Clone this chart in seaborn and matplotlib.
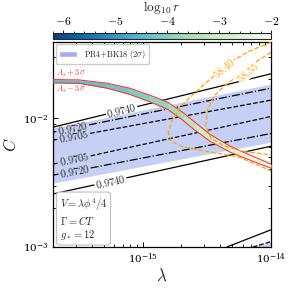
import numpy as np
import matplotlib
matplotlib.use("Agg")
import matplotlib.pyplot as plt
import seaborn as sns
from matplotlib.colors import Normalize
from matplotlib.cm import ScalarMappable
from matplotlib.patches import Patch
from matplotlib.ticker import MultipleLocator, FixedLocator, LogLocator, NullFormatter

sns.set_theme(style="white")
plt.rcParams["mathtext.fontset"] = "cm"
plt.rcParams["font.family"] = ["DejaVu Serif"]

# ---------------- data ----------------
lam_edges = [2.0e-16, 1.0e-14]
# n_s contour lines: C at left and right edges
ns_upper_solid = [8.51e-3, 2.21e-2]    # 0.9740
ns_upper_dashdot = [7.79e-3, 1.71e-2]  # 0.9720
ns_upper_dashed = [6.75e-3, 1.38e-2]   # 0.9705
ns_lower_dashed = [4.40e-3, 1.03e-2]   # 0.9705
ns_lower_dashdot = [3.61e-3, 7.60e-3]  # 0.9720
ns_lower_solid = [2.58e-3, 6.06e-3]    # 0.9740
band_top = [8.36e-3, 1.84e-2]
band_bottom = [3.13e-3, 6.52e-3]
br_solid_lam = [4.53e-15, 1.0e-14]
br_solid_C = [1.0e-3, 1.36e-3]
br_dashed_lam = [7.23e-15, 1.0e-14]
br_dashed_C = [1.0e-3, 1.10e-3]

# A_s +/- 3 sigma band
lam_red = [2.0e-16, 3.22e-16, 5.24e-16, 7.91e-16, 1.135e-15, 1.567e-15,
           2.05e-15, 2.55e-15, 3.33e-15, 4.79e-15, 6.85e-15, 1.0e-14]
C_red_up = [1.995e-2, 1.98e-2, 1.87e-2, 1.71e-2, 1.51e-2, 1.33e-2,
            1.11e-2, 9.31e-3, 7.51e-3, 6.07e-3, 5.17e-3, 4.40e-3]
C_red_lo = [1.88e-2, 1.86e-2, 1.71e-2, 1.53e-2, 1.34e-2, 1.17e-2,
            9.65e-3, 8.07e-3, 6.64e-3, 5.45e-3, 4.72e-3, 4.09e-3]
logr_red = [-4.45, -4.4, -4.3, -4.15, -3.95, -3.7,
            -3.45, -3.2, -2.9, -2.65, -2.45, -2.3]

# N-efold contours (orange)
lam_N1 = [1.0e-14, 6.85e-15, 5.24e-15, 3.53e-15, 2.46e-15, 1.98e-15,
          1.71e-15, 1.58e-15, 1.67e-15, 2.05e-15, 3.2e-15, 5.6e-15, 1.0e-14]
C_N1 = [3.88e-2, 3.33e-2, 2.86e-2, 2.10e-2, 1.52e-2, 1.23e-2,
        9.8e-3, 7.7e-3, 6.6e-3, 6.0e-3, 5.5e-3, 5.0e-3, 3.9e-3]
lam_N2 = [1.0e-14, 7.9e-15, 5.8e-15, 4.5e-15, 3.6e-15, 3.2e-15,
          3.1e-15, 3.4e-15, 4.3e-15, 6.1e-15, 1.0e-14]
C_N2 = [3.24e-2, 2.80e-2, 2.22e-2, 1.83e-2, 1.49e-2, 1.16e-2,
        8.8e-3, 7.0e-3, 6.1e-3, 5.5e-3, 5.2e-3]

ns_labels = ["0.9740", "0.9720", "0.9705"]
N_labels = ["58.40", "58.55"]

# ---------------- figure ----------------
W, H = 292, 291
fig = plt.figure(figsize=(W / 100, H / 100), dpi=100)
ax = fig.add_axes([53 / W, 1 - 247 / H, 218 / W, 205 / H])
cax = fig.add_axes([53 / W, 1 - 39 / H, 218 / W, 6 / H])
ax.set_xscale("log")
ax.set_yscale("log")
ax.set_xlim(2.0e-16, 1.0e-14)
ax.set_ylim(1.0e-3, 3.9e-2)
ax.xaxis.set_major_locator(FixedLocator([1e-15, 1e-14]))
ax.yaxis.set_major_locator(FixedLocator([1e-3, 1e-2]))
ax.xaxis.set_minor_locator(LogLocator(base=10, subs=np.arange(2, 10), numticks=20))
ax.yaxis.set_minor_locator(LogLocator(base=10, subs=np.arange(2, 10), numticks=20))
ax.xaxis.set_minor_formatter(NullFormatter())
ax.yaxis.set_minor_formatter(NullFormatter())

cmap = plt.get_cmap("GnBu_r")
norm = Normalize(vmin=-6.2, vmax=-2.0)

band_col = "#c6d0f4"
# blue band
lt = np.linspace(np.log10(lam_edges[0]), np.log10(lam_edges[1]), 200)
ax.fill_between(10 ** lt,
                10 ** np.interp(lt, np.log10(lam_edges), np.log10(band_bottom)),
                10 ** np.interp(lt, np.log10(lam_edges), np.log10(band_top)),
                color=band_col, lw=0, zorder=1)
ltb = np.linspace(np.log10(br_dashed_lam[0]), np.log10(br_dashed_lam[1]), 50)
ax.fill_between(10 ** ltb, 1e-3,
                10 ** np.interp(ltb, np.log10(br_dashed_lam), np.log10(br_dashed_C)),
                color=band_col, lw=0, zorder=1)


def angle_of(l0, c0, l1, c1):
    p0 = ax.transData.transform((l0, c0))
    p1 = ax.transData.transform((l1, c1))
    return np.degrees(np.arctan2(p1[1] - p0[1], p1[0] - p0[0]))


def ns_line(Cs, ls, label, xlab, halfgap):
    llam = np.log10(lam_edges)
    lc = np.log10(Cs)
    t = np.linspace(llam[0], llam[1], 400)
    y = np.interp(t, llam, lc)
    g0, g1 = np.log10(xlab) - halfgap, np.log10(xlab) + halfgap
    y2 = y.copy()
    y2[(t > g0) & (t < g1)] = np.nan
    ax.plot(10 ** t, 10 ** y2, color="black", ls=ls, lw=0.9, zorder=3)
    yl = np.interp(np.log10(xlab), llam, lc)
    ang = angle_of(lam_edges[0], Cs[0], lam_edges[1], Cs[1])
    ax.text(xlab, 10 ** yl, r"$%s$" % label, rotation=ang, rotation_mode="anchor",
            ha="center", va="center", fontsize=7.5, zorder=4)


ns_line(ns_upper_solid, "-", ns_labels[0], 6.85e-16, 0.125)
ns_line(ns_upper_dashdot, "-.", ns_labels[1], 2.84e-16, 0.125)
ns_line(ns_upper_dashed, "--", ns_labels[2], 2.9e-16, 0.125)
ns_line(ns_lower_dashed, "--", ns_labels[2], 2.95e-16, 0.125)
ns_line(ns_lower_dashdot, "-.", ns_labels[1], 2.95e-16, 0.125)
ns_line(ns_lower_solid, "-", ns_labels[0], 5.6e-16, 0.125)
ax.plot(br_solid_lam, br_solid_C, color="black", lw=0.9, zorder=3)
ax.plot(br_dashed_lam, br_dashed_C, color="black", ls="--", lw=0.9, zorder=3)

# red A_s band colored by log10 r
lr = np.log10(lam_red)
for i in range(len(lam_red) - 1):
    tt = np.linspace(lr[i], lr[i + 1], 10)
    up = np.interp(tt, lr, np.log10(C_red_up))
    lo = np.interp(tt, lr, np.log10(C_red_lo))
    ax.fill_between(10 ** tt, 10 ** lo, 10 ** up,
                    color=cmap(norm(0.5 * (logr_red[i] + logr_red[i + 1]))),
                    lw=0, zorder=5)
ax.plot(lam_red, C_red_up, color="#ff3030", lw=0.75, zorder=6)
ax.plot(lam_red, C_red_lo, color="#ff3030", lw=0.75, zorder=6)
ax.text(2.1e-16, 2.15e-2, r"$A_s+3\sigma$", color="#ff3030", fontsize=6, zorder=7)
ax.text(2.1e-16, 1.62e-2, r"$A_s-3\sigma$", color="#ff3030", fontsize=6, zorder=7)

# orange N contours
ax.plot(lam_N1, C_N1, color="orange", ls="--", lw=0.9, zorder=6)
ax.plot(lam_N2, C_N2, color="orange", ls="--", lw=0.9, zorder=6)
ax.text(4.3e-15, 2.45e-2, r"$%s$" % N_labels[0], color="orange", fontsize=7.5,
        rotation=40, ha="center", va="center", zorder=7,
        bbox=dict(fc="white", ec="none", pad=0))
ax.text(6.6e-15, 2.25e-2, r"$%s$" % N_labels[1], color="orange", fontsize=7.5,
        rotation=40, ha="center", va="center", zorder=7,
        bbox=dict(fc="white", ec="none", pad=0))

# legend and parameter box
leg = ax.legend(handles=[Patch(fc="#a6acf2", label=r"$\mathrm{PR4{+}BK18}\ (2\sigma)$")],
                loc="upper left", fontsize=6, frameon=True, framealpha=1,
                edgecolor="0.8", handlelength=2.2, borderaxespad=0.3)
leg.set_zorder(10)
ax.text(0.03, 0.025, "$V=\\lambda\\phi^4/4$\n$\\Gamma=CT$\n$g_*=12$",
        transform=ax.transAxes, fontsize=7.5, va="bottom", ha="left", zorder=10,
        linespacing=1.1,
        bbox=dict(boxstyle="round,pad=0.3", fc="white", ec="0.75", lw=0.8))

ax.set_xlabel(r"$\lambda$", fontsize=12, labelpad=1)
ax.set_ylabel(r"$C$", fontsize=12, labelpad=2)
ax.tick_params(which="both", direction="in", top=True, right=True,
               bottom=True, left=True, labelsize=7.5, colors="black")
ax.tick_params(which="major", length=3.5, width=0.7)
ax.tick_params(which="minor", length=2, width=0.6)
for s in ax.spines.values():
    s.set_color("black")
    s.set_linewidth(0.9)

# colorbar
cb = fig.colorbar(ScalarMappable(norm=norm, cmap=cmap), cax=cax,
                  orientation="horizontal")
cax.xaxis.set_ticks_position("top")
cax.xaxis.set_label_position("top")
cb.set_ticks([-6, -5, -4, -3, -2])
cb.set_ticklabels([r"$-6$", r"$-5$", r"$-4$", r"$-3$", r"$-2$"])
cax.xaxis.set_minor_locator(MultipleLocator(0.2))
cax.tick_params(which="both", top=True, bottom=False, labelsize=8.5,
                colors="black", pad=1.0)
cax.tick_params(which="major", length=2.5, width=0.6)
cax.tick_params(which="minor", length=1.5, width=0.5)
cb.set_label(r"$\log_{10} r$", fontsize=9.5, labelpad=3)
cb.outline.set_linewidth(0.8)

fig.savefig("out.png", dpi=100)
